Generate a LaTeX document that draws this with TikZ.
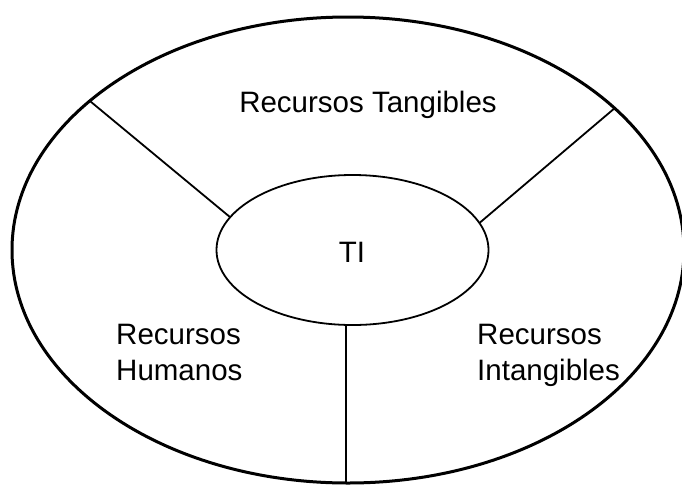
\documentclass[tikz,border=0pt]{standalone}
\usepackage{fontspec}
\setmainfont{Liberation Sans}
\usetikzlibrary{shapes.geometric}
\begin{document}
\begin{tikzpicture}[x=1pt,y=-1pt,
  region/.style={ellipse,draw,inner sep=0pt,outer sep=0pt},
  divider/.style={line width=1.8pt},
  label/.style={inner sep=0pt,font=\fontsize{29.5}{36}\selectfont,align=left}]
\useasboundingbox (0,0) rectangle (682,485);
\node[region,line width=3pt,minimum width=672pt,minimum height=466pt] (outer) at (348,250) {};
\node[region,line width=1.8pt,minimum width=272pt,minimum height=150pt] (inner) at (352.5,250) {};
\node[label,anchor=base] (ti) at (352,262) {TI};
\node[label,anchor=base] (tang) at (368,112) {Recursos Tangibles};
\node[label,anchor=base west] (hum) at (116,380) {Recursos\\Humanos};
\node[label,anchor=base west] (intang) at (477,380) {Recursos\\Intangibles};
\draw[divider] (outer.150.7) -- (inner.165.3);
\draw[divider] (outer.28.1) -- (inner.12.1);
\coordinate (b) at ([xshift=-6.5pt]inner.south);
\draw[divider] (b) -- (b |- outer.south);
\end{tikzpicture}
\end{document}
